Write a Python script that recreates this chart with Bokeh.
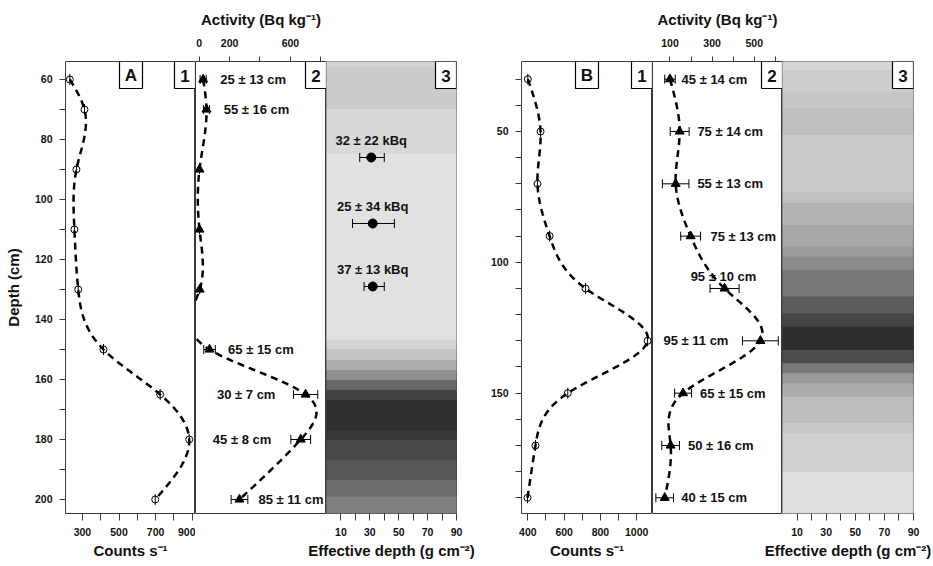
import numpy as np
from bokeh.plotting import figure
from bokeh.layouts import row, column
from bokeh.models import Range1d, LinearAxis, FixedTicker, ColumnDataSource, Whisker, TeeHead
from bokeh.core.properties import value
from bokeh.embed import file_html
from bokeh.resources import INLINE

FONT = "Liberation Sans"
INK = "#111111"
FRAME = "#3a3a3a"

# ---------------- profile A ----------------
depth_A = [60, 70, 90, 110, 130, 150, 165, 180, 200]
counts_A = [231, 311, 267, 256, 277, 415, 725, 884, 698]
act_A = [26, 48, 2, 2, 3, 68, 700, 668, 265]
act_err_A = [20, 20, 0, 0, 0, 38, 80, 65, 55]
note_A = ["25 ± 13 cm", "55 ± 16 cm", "65 ± 15 cm", "30 ± 7 cm", "45 ± 8 cm", "85 ± 11 cm"]
note_depth_A = [60, 70, 150, 165, 180, 200]
note_x_A = [139, 161, 190, 117, 90, 390]
inv_depth_A = [86, 108, 129]
inv_eff_A = [31, 32, 32]
inv_lo_A = [23, 18, 26]
inv_hi_A = [40, 47, 40]
inv_note_A = ["32 ± 22 kBq", "25 ± 34 kBq", "37 ± 13 kBq"]
band_edges_A = [54, 56, 70, 85, 147, 150, 153.7, 157, 160.3, 163.7, 167, 177, 180.3, 187, 193.7, 199.2, 205]
band_grey_A = ["#d4d4d4", "#cbcbcb", "#d8d8d8", "#e1e1e1", "#d4d4d4", "#c4c4c4", "#adadad", "#8f8f8f",
               "#676767", "#434343", "#2f2f2f", "#383838", "#474747", "#585858", "#6c6c6c", "#808080"]

# ---------------- profile B ----------------
depth_B = [30, 50, 70, 90, 110, 130, 150, 170, 190]
counts_B = [400, 470, 453, 520, 718, 1060, 620, 442, 398]
act_B = [100, 146, 127, 198, 359, 529, 162, 103, 75]
act_err_B = [25, 45, 63, 47, 69, 85, 40, 42, 42]
note_B = ["45 ± 14 cm", "75 ± 14 cm", "55 ± 13 cm", "75 ± 13 cm", "95 ± 10 cm",
          "95 ± 11 cm", "65 ± 15 cm", "50 ± 16 cm", "40 ± 15 cm"]
note_depth_B = [30, 50, 70, 90, 105.5, 130, 150, 170, 190]
note_x_B = [155, 230, 230, 292, 198, 69, 242, 185, 154]
band_edges_B = [23, 26.7, 35, 41.3, 51.5, 73.2, 77.6, 85.9, 94.2, 98, 103.1, 113.3, 119.7, 124.8,
                133.7, 138.8, 142.6, 146.4, 151.5, 161.7, 165.5, 180.2, 197]
band_grey_B = ["#d6d6d6", "#cdcdcd", "#c6c6c6", "#bebebe", "#cbcbcb", "#c1c1c1", "#b4b4b4", "#a8a8a8",
               "#9a9a9a", "#8c8c8c", "#787878", "#5c5c5c", "#454545", "#2e2e2e", "#4d4d4d", "#7a7a7a",
               "#999999", "#ababab", "#bdbdbd", "#c8c8c8", "#d0d0d0", "#dedede"]

# ---------------- ticks ----------------
depth_major_A = [60, 80, 100, 120, 140, 160, 180, 200]
depth_minor_A = [70, 90, 110, 130, 150, 170, 190]
depth_major_B = [50, 100, 150]
depth_minor_B = [30, 40, 60, 70, 80, 90, 110, 120, 130, 140, 160, 170, 180, 190]
counts_major_A = [300, 500, 700, 900]
counts_minor_A = [400, 600, 800]
counts_major_B = [400, 600, 800, 1000]
counts_minor_B = [500, 700, 900]
act_major_A = [0, 200, 600]
act_minor_A = [400, 800]
act_major_B = [100, 300, 500]
act_minor_B = [200, 400, 600]
eff_major = [10, 30, 50, 70, 90]
eff_minor = [20, 40, 60, 80]

# axis titles
depth_title = "Depth (cm)"
act_title = "Activity (Bq kg⁻¹)"
counts_title = "Counts s⁻¹"
eff_title = "Effective depth (g cm⁻²)"

# axis limits (data units)
cnt_lim_A, act_lim_A = (207.3, 918.2), (-24.3, 837.5)
cnt_lim_B, act_lim_B = (365, 1087), (17, 634)
eff_lim = (0, 90)
y_lim_A = (54.0, 204.67)
y_lim_B = (23.25, 196.0)

# layout (pixels)
FH = 452
TOP, BOT, STRIP = 61, 27, 26
FW_A = (130, 131, 130)
FW_B = (131, 130, 131)
BL_A, BR_A, BL_B, BR_B = 65, 25, 40, 20


def nat_spline(x, y, xs):
    x = np.asarray(x, float)
    y = np.asarray(y, float)
    n = len(x)
    h = np.diff(x)
    A = np.zeros((n, n))
    b = np.zeros(n)
    A[0, 0] = A[-1, -1] = 1
    for i in range(1, n - 1):
        A[i, i - 1] = h[i - 1]
        A[i, i] = 2 * (h[i - 1] + h[i])
        A[i, i + 1] = h[i]
        b[i] = 3 * ((y[i + 1] - y[i]) / h[i] - (y[i] - y[i - 1]) / h[i - 1])
    c = np.linalg.solve(A, b)
    bc = (y[1:] - y[:-1]) / h - h * (2 * c[:-1] + c[1:]) / 3
    d = (c[1:] - c[:-1]) / (3 * h)
    idx = np.clip(np.searchsorted(x, xs) - 1, 0, n - 2)
    dx = xs - x[idx]
    return y[idx] + bc[idx] * dx + c[idx] * dx ** 2 + d[idx] * dx ** 3


def add_axis(p, side, major, minor, tick_out, standoff, title=None, title_standoff=8):
    ax = LinearAxis(axis_label=title)
    ax.ticker = FixedTicker(ticks=major, minor_ticks=minor)
    ax.axis_line_color = None
    ax.major_tick_out = tick_out
    ax.major_tick_in = 0
    ax.minor_tick_out = tick_out
    ax.minor_tick_in = 0
    ax.major_tick_line_color = FRAME
    ax.minor_tick_line_color = FRAME
    ax.major_label_text_font = FONT
    ax.major_label_text_font_style = "bold"
    ax.major_label_text_font_size = "10.5px"
    ax.major_label_text_color = INK
    ax.major_label_standoff = standoff
    ax.axis_label_text_font = FONT
    ax.axis_label_text_font_style = "bold"
    ax.axis_label_text_font_size = "15px"
    ax.axis_label_text_color = INK
    ax.axis_label_standoff = title_standoff
    p.add_layout(ax, side)


def panel(fw, xlim, ylim, bl=0, br=0):
    p = figure(frame_width=fw, frame_height=FH,
               x_range=Range1d(*xlim), y_range=Range1d(start=ylim[1], end=ylim[0]),
               x_axis_location=None, y_axis_location=None,
               output_backend="svg", toolbar_location=None,
               min_border_left=bl, min_border_right=br, min_border_top=TOP, min_border_bottom=BOT,
               background_fill_color="white", border_fill_color="white",
               outline_line_color=FRAME, outline_line_width=1.0)
    p.grid.visible = False
    return p


def tag(p, fw, xlim, ylim, text, l_px, r_px):
    kx = (xlim[1] - xlim[0]) / fw
    ky = (ylim[1] - ylim[0]) / FH
    l, r = xlim[0] + l_px * kx, xlim[0] + r_px * kx
    t, b = ylim[0], ylim[0] + 27 * ky
    p.quad(left=[l], right=[r], top=[t], bottom=[b], fill_color="white",
           line_color="black", line_width=1.2)
    p.text([(l + r) / 2], [(t + b) / 2 + 0.5 * ky], text=[text], text_font=value(FONT),
           text_font_style="bold", text_font_size="17px", text_baseline="middle",
           text_align="center", text_color=INK)


def whiskers(p, base, lower, upper):
    src = ColumnDataSource(dict(base=base, lower=lower, upper=upper))
    p.add_layout(Whisker(source=src, base="base", lower="lower", upper="upper", dimension="width",
                         line_color="black", line_width=1, level="annotation",
                         upper_head=TeeHead(size=9, line_color="black", line_width=1),
                         lower_head=TeeHead(size=9, line_color="black", line_width=1)))


def group(fws, bl, br, ylim, cnt_lim, act_lim, depth, counts, act, act_err, notes, note_depth,
          note_x, band_edges, band_grey, y_major, y_minor, c_major, c_minor, a_major, a_minor,
          letter, y_title=None, inv=None):
    ky = (ylim[1] - ylim[0]) / FH
    ys = np.linspace(depth[0], depth[-1], 400)

    # panel 1 : counts
    p1 = panel(fws[0], cnt_lim, ylim, bl=bl)
    add_axis(p1, "left", y_major, y_minor, 6, 7, title=y_title, title_standoff=10)
    add_axis(p1, "below", c_major, c_minor, 7, 7)
    p1.line(nat_spline(depth, counts, ys), ys, line_dash="7 5", line_width=2.5, line_color="black")
    p1.scatter(counts, depth, marker="circle", size=7, fill_color=None, line_color="black", line_width=1)
    p1.scatter(counts, depth, marker="dash", angle=np.pi / 2, size=11, line_color="black", line_width=1)
    tag(p1, fws[0], cnt_lim, ylim, letter, 54, 77)
    tag(p1, fws[0], cnt_lim, ylim, "1", fws[0] - 21, fws[0])

    # panel 2 : activity
    p2 = panel(fws[1], act_lim, ylim)
    add_axis(p2, "above", a_major, a_minor, 5, 10, title=act_title, title_standoff=8)
    p2.line(nat_spline(depth, act, ys), ys, line_dash="7 5", line_width=2.5, line_color="black")
    a = np.asarray(act, float)
    e = np.asarray(act_err, float)
    whiskers(p2, depth, a - e, a + e)
    p2.scatter(act, depth, marker="triangle", size=9, fill_color="black", line_color="black")
    p2.text(note_x, note_depth, text=notes, text_font=value(FONT), text_font_style="bold",
            text_font_size="13px", text_baseline="middle", text_align="left", text_color=INK)
    tag(p2, fws[1], act_lim, ylim, "2", fws[1] - 21, fws[1])

    # panel 3 : grey scale
    p3 = panel(fws[2], eff_lim, ylim, br=br)
    add_axis(p3, "below", eff_major, eff_minor, 7, 7)
    p3.quad(left=eff_lim[0], right=eff_lim[1], top=band_edges[:-1], bottom=band_edges[1:],
            fill_color=band_grey, line_color=band_grey, line_width=1)
    if inv is not None:
        idep, ix, ilo, ihi, inote = inv
        whiskers(p3, idep, ilo, ihi)
        p3.scatter(ix, idep, marker="circle", size=9, fill_color="black", line_color="black")
        p3.text(ix, [d - 17 * ky for d in idep], text=inote, text_font=value(FONT),
                text_font_style="bold", text_font_size="13px", text_baseline="middle",
                text_align="center", text_color=INK)
    tag(p3, fws[2], eff_lim, ylim, "3", fws[2] - 21, fws[2])
    return [p1, p2, p3]


panels_A = group(FW_A, BL_A, 0, y_lim_A, cnt_lim_A, act_lim_A, depth_A, counts_A, act_A, act_err_A,
                 note_A, note_depth_A, note_x_A, band_edges_A, band_grey_A, depth_major_A,
                 depth_minor_A, counts_major_A, counts_minor_A, act_major_A, act_minor_A, "A",
                 y_title=depth_title, inv=(inv_depth_A, inv_eff_A, inv_lo_A, inv_hi_A, inv_note_A))
panels_B = group(FW_B, BL_B, 0, y_lim_B, cnt_lim_B, act_lim_B, depth_B, counts_B, act_B, act_err_B,
                 note_B, note_depth_B, note_x_B, band_edges_B, band_grey_B, depth_major_B,
                 depth_minor_B, counts_major_B, counts_minor_B, act_major_B, act_minor_B, "B")
panels_A[2].min_border_right = BR_A
panels_B[2].min_border_right = BR_B

# strip with the bottom axis titles (centred under panels 1 and 3 of each profile)
total_w = BL_A + sum(FW_A) + BR_A + BL_B + sum(FW_B) + BR_B
xa0 = BL_A
xb0 = BL_A + sum(FW_A) + BR_A + BL_B
title_x = [xa0 + FW_A[0] / 2, xa0 + FW_A[0] + FW_A[1] + FW_A[2] / 2,
           xb0 + FW_B[0] / 2, xb0 + FW_B[0] + FW_B[1] + FW_B[2] / 2]
title_text = [counts_title, eff_title, counts_title, eff_title]
strip = figure(width=total_w, height=STRIP, x_range=Range1d(0, total_w), y_range=Range1d(STRIP, 0),
               x_axis_location=None, y_axis_location=None, output_backend="svg",
               toolbar_location=None, min_border=0, outline_line_color=None)
strip.grid.visible = False
strip.text(title_x, [10] * 4, text=title_text, text_font=value(FONT), text_font_style="bold",
           text_font_size="15px", text_align="center", text_baseline="middle", text_color=INK)

layout = column(row(*panels_A, *panels_B), strip)
open("out.html", "w").write(file_html(layout, INLINE))
